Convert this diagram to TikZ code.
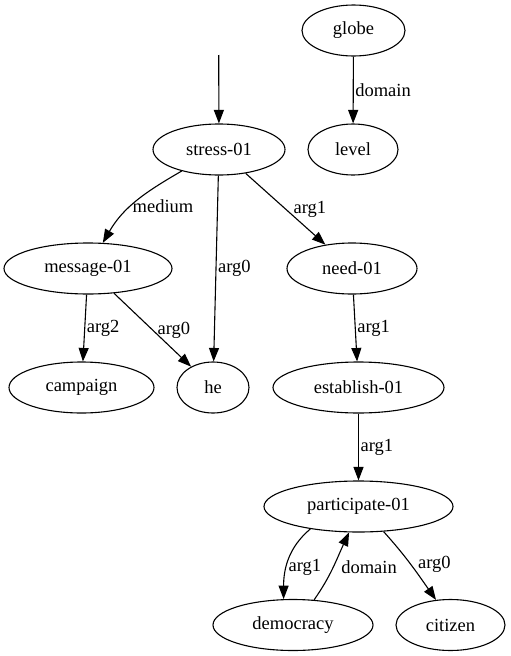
\documentclass[tikz,border=0pt]{standalone}
\usepackage{fontspec}
\setmainfont{Liberation Serif}
\usetikzlibrary{arrows.meta,shapes.geometric}

\begin{document}
\begin{tikzpicture}[
    x=1pt, y=-1pt,
    font=\fontsize{18.5}{22}\selectfont,
    concept/.style={draw, ellipse, line width=1.1pt, minimum height=51pt, inner sep=0pt},
    arrow/.style={-{Triangle[length=13.5pt,width=10pt]}, line width=1.1pt},
    lbl/.style={right, inner sep=1.5pt}
  ]
    \useasboundingbox (0,0) rectangle (511,656);
    \coordinate (root) at (218.7,55);
    \node[concept, minimum width=103pt] (globe) at (353.5,30.5) {globe};
    \node[concept, minimum width=90pt] (level) at (353,149.5) {level};
    \node[concept, minimum width=132pt] (stress) at (219,149.5) {stress-01};
    \node[concept, minimum width=168pt] (message) at (88,268.5) {message-01};
    \node[concept, minimum width=130pt] (need) at (352,268.5) {need-01};
    \node[concept, minimum width=145pt] (campaign) at (81.5,387.5) {campaign};
    \node[concept, minimum width=72pt] (he) at (213,387.5) {he};
    \node[concept, minimum width=171pt] (establish) at (358.5,387.5) {establish-01};
    \node[concept, minimum width=189pt] (participate) at (358.5,506.5) {participate-01};
    \node[concept, minimum width=160pt] (democracy) at (293,625) {democracy};
    \node[concept, minimum width=109pt] (citizen) at (450.5,625) {citizen};

    \draw[arrow] (root) -- (stress);
    \draw[arrow] (globe) -- node[lbl]{domain} (level);
    \draw[arrow] (stress) to[out=210,in=60] node[lbl, pos=0.58]{medium} (message);
    \draw[arrow] (stress) -- node[lbl]{arg0} (he);
    \draw[arrow] (stress) -- node[lbl, right=6pt]{arg1} (need);
    \draw[arrow] (message) -- node[lbl]{arg2} (campaign);
    \draw[arrow] (message) -- node[lbl, right=3pt]{arg0} (he);
    \draw[arrow] (need) -- node[lbl]{arg1} (establish);
    \draw[arrow] (establish) -- node[lbl]{arg1} (participate);
    \draw[arrow] (participate.205) to[out=220,in=90] node[lbl, pos=0.6]{arg1} (democracy.110);
    \draw[arrow] (democracy.50) to[out=55,in=245] node[lbl, right=6pt]{domain} (participate.250);
    \draw[arrow] (participate.-45) to[out=-48,in=125] node[lbl, right=5pt]{arg0} (citizen.120);
\end{tikzpicture}
\end{document}
